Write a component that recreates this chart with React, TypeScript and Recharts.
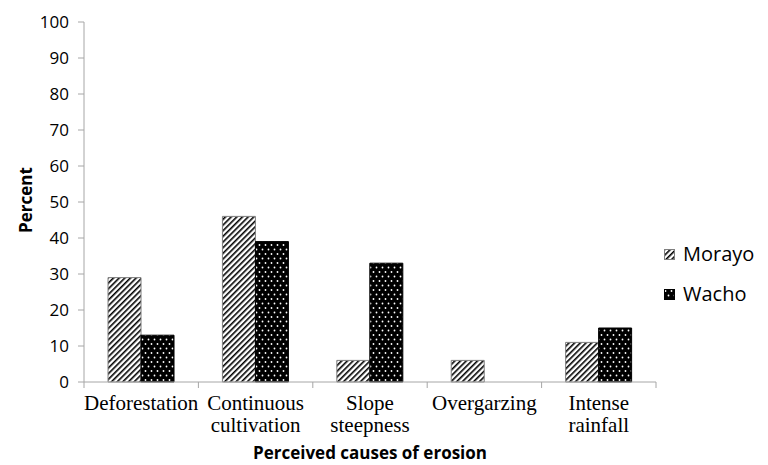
import { BarChart, Bar, XAxis, YAxis } from 'recharts';

const causes = ['Deforestation', 'Continuous cultivation', 'Slope steepness', 'Overgarzing', 'Intense rainfall'];
const labelLines = [['Deforestation'], ['Continuous', 'cultivation'], ['Slope', 'steepness'], ['Overgarzing'], ['Intense', 'rainfall']];
const morayo = [29, 46, 6, 6, 11];
const wacho = [13, 39, 33, 0, 15];
const yTicks = [0, 10, 20, 30, 40, 50, 60, 70, 80, 90, 100];

const data = causes.map((c, i) => ({ cause: c, Morayo: morayo[i], Wacho: wacho[i] }));

const AXIS = '#a6a6a6';
const SANS = '"Open Sans", sans-serif';
const SERIF = '"Liberation Serif", "Times New Roman", serif';

// category label plus tick marks at the band edges
function CategoryTick(props: any) {
  const { x, y, payload } = props;
  const half = payload.offset ?? 0;
  const lines = labelLines[payload.index] ?? [payload.value];
  const axisY = y - 2;
  return (
    <g>
      <line x1={x - half} x2={x - half} y1={axisY} y2={axisY + 6} stroke={AXIS} />
      {payload.index === causes.length - 1 && (
        <line x1={x + half} x2={x + half} y1={axisY} y2={axisY + 6} stroke={AXIS} />
      )}
      <text x={x} y={axisY} textAnchor="middle" fontFamily={SERIF} fontSize={21} fill="#000">
        {lines.map((l, i) => (
          <tspan key={i} x={x} dy={i === 0 ? 28 : 22}>{l}</tspan>
        ))}
      </text>
    </g>
  );
}

function PercentLabel(props: any) {
  const { viewBox } = props;
  const cx = viewBox.x + 25;
  const cy = viewBox.y + viewBox.height / 2 - 2;
  return (
    <text x={cx} y={cy} transform={`rotate(-90 ${cx} ${cy})`} textAnchor="middle" dominantBaseline="central"
      fontFamily={SANS} fontWeight="bold" fontSize={17} fill="#000">
      Percent
    </text>
  );
}

function Patterns() {
  return (
    <defs>
      <pattern id="hatch" width="4" height="4" patternUnits="userSpaceOnUse" patternTransform="rotate(45)">
        <rect width="4" height="4" fill="#fff" />
        <rect x="0" y="0" width="1.6" height="4" fill="#000" />
      </pattern>
      <pattern id="dots" width="6" height="9" patternUnits="userSpaceOnUse">
        <rect width="6" height="9" fill="#000" />
        <circle cx="1.5" cy="2" r="0.9" fill="#fff" />
        <circle cx="4.5" cy="6.5" r="0.9" fill="#fff" />
      </pattern>
    </defs>
  );
}

function LegendSwatch({ fill, stroke }: { fill: string; stroke: string }) {
  return (
    <svg width={11} height={11} style={{ marginRight: 8 }}>
      <rect x={0.5} y={0.5} width={10} height={10} fill={fill} stroke={stroke} />
    </svg>
  );
}

export default function App() {
  return (
    <div style={{ position: 'absolute', left: 0, top: 0, width: 768, height: 465, background: '#fff' }}>
      <BarChart
        width={768}
        height={465}
        data={data}
        margin={{ top: 22, right: 112, bottom: 0, left: 0 }}
        barCategoryGap="21%"
        barGap={0}
      >
        <Patterns />
        <XAxis
          dataKey="cause"
          height={83}
          interval={0}
          axisLine={{ stroke: AXIS }}
          tickLine={false}
          tickSize={0}
          tickMargin={2}
          tick={<CategoryTick />}
          label={{
            value: 'Perceived causes of erosion',
            position: 'insideBottom',
            offset: 6,
            fontFamily: SANS,
            fontWeight: 'bold',
            fontSize: 17,
            fill: '#000',
          }}
        />
        <YAxis
          width={84}
          domain={[0, 100]}
          ticks={yTicks}
          interval={0}
          axisLine={{ stroke: AXIS }}
          tickLine={{ stroke: AXIS }}
          tickSize={6}
          tickMargin={9}
          tick={{ fontFamily: SANS, fontSize: 17, fill: '#000' }}
          label={<PercentLabel />}
        />
        <Bar dataKey="Morayo" fill="url(#hatch)" stroke="#7f7f7f" strokeWidth={1} isAnimationActive={false} />
        <Bar dataKey="Wacho" fill="url(#dots)" stroke="#000" strokeWidth={1} isAnimationActive={false} />
      </BarChart>
      <div style={{ position: 'absolute', left: 664, top: 240, fontFamily: SANS, fontSize: 20, lineHeight: '28px' }}>
        <div style={{ display: 'flex', alignItems: 'center' }}>
          <LegendSwatch fill="url(#hatch)" stroke="#7f7f7f" />
          <span>Morayo</span>
        </div>
        <div style={{ display: 'flex', alignItems: 'center', marginTop: 12 }}>
          <LegendSwatch fill="url(#dots)" stroke="#000" />
          <span>Wacho</span>
        </div>
      </div>
    </div>
  );
}
